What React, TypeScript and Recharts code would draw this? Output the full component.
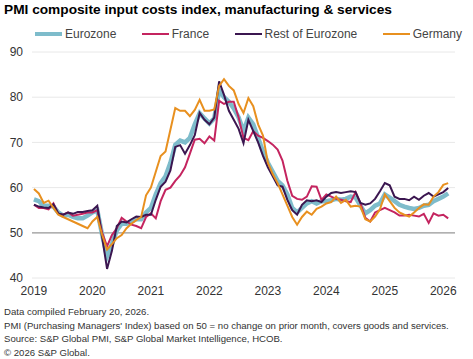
import { LineChart, Line, XAxis, YAxis, CartesianGrid, ReferenceLine } from 'recharts';

const FONT = '"Liberation Sans", Arial, sans-serif';

// x-axis tick labels (one per January)
const years = ['2019', '2020', '2021', '2022', '2023', '2024', '2025', '2026'];
const yTicks = [40, 50, 60, 70, 80, 90];

// monthly readings, Jan 2019 .. Feb 2026
const eurozone = [
  57.4, 57, 56, 56, 55.8, 54.5, 53.8, 54, 53.5, 53.2, 53.2, 53.8,
  54.5, 55, 49.5, 44.8, 47.5, 50.5, 52, 52, 52.5, 53, 53, 54.5,
  55.5, 58.5, 61, 62.5, 65.5, 69.5, 70.4, 70, 71, 74, 76.5, 75.3,
  74.2, 75.3, 81.5, 80, 79, 77.5, 75.5, 72.5, 75.5, 74, 71, 68,
  65.5, 63.5, 61.5, 60.5, 58.5, 55.5, 54.5, 55.5, 56.5, 57, 56.5, 57,
  57, 57.2, 57.5, 57.3, 57.5, 58, 57.8, 56, 54.3, 55, 56, 56.5,
  58.5, 57.8, 57, 56.2, 55.8, 55.5, 55.3, 55.5, 56, 56.2, 57, 57.5,
  58, 58.7,
];
const france = [
  56.2, 55.5, 55.5, 55.2, 56.5, 54.2, 54, 54.5, 53.8, 54, 54.2, 54.5,
  54.5, 55, 50, 47, 49.5, 51, 53.3, 52.5, 51.8, 51.5, 51, 53.5,
  54.3, 53.2, 57, 59.5, 60, 61.5, 62.7, 64.5, 67.5, 70.6, 70.8, 69.8,
  71.3, 70.4, 79.2, 78.5, 79, 79, 75.5, 71, 70.5, 72.5, 71.5, 71,
  70.3, 69.5, 68.4, 66, 61.5, 58.2, 57.5, 57.3, 58, 60.3, 60.2, 57.3,
  58.5, 58, 57.5, 57.3, 57, 56.8, 59, 56.5, 53.3, 52.5, 54.5, 55,
  55.5, 55, 54.5, 53.8, 53.8, 54, 53.8, 53.6, 54.2, 52.2, 54.3, 53.8,
  54, 53.2,
];
const restOfEurozone = [
  56.2, 55.8, 55.6, 55.5, 56.3, 54.3, 54, 54.5, 54.2, 54.6, 54.6, 54.8,
  55, 56, 49, 42, 46, 51.5, 52.5, 52.3, 53, 53.6, 53.5, 54,
  54, 57.3, 60.2, 61.3, 63.8, 69, 69.4, 67.5, 69.4, 71.6, 76.5, 75,
  74, 75.5, 83.5, 80.5, 77, 75, 73, 69.8, 75, 72.5, 70, 67,
  64.5, 62.5, 60.5, 60.2, 57.3, 55, 54, 56.2, 57.2, 57, 57.2, 56.8,
  58, 58.8, 59, 58.8, 59, 59.2, 59, 56.6, 56.2, 56.5, 57.5, 59.2,
  61, 60.5, 58, 57.5, 57.5, 57.2, 58, 57.3, 58.2, 58.8, 58, 58.5,
  59, 59.9,
];
const germany = [
  59.7, 58.7, 56.6, 57.1, 55.5, 54, 53.5, 53, 52.5, 52, 51.5, 51,
  52.5, 53.5, 49.5, 46.3, 47.5, 48.8, 49.5, 51, 52, 52.8, 53.5, 58.3,
  60, 63.5, 67, 68, 72.8, 77.6, 77, 77, 75.8, 77.2, 79.4, 77,
  77, 77.3, 82.5, 84, 82.5, 81.5, 78.5, 76.5, 79.8, 78, 74, 71.5,
  65.5, 63, 61, 58.5, 56, 53.5, 51.8, 53.5, 54.7, 54, 55.3, 55.8,
  56.5, 56.8, 58, 56.6, 57.3, 55.8, 56, 55.8, 53, 52.5, 53.6, 55.2,
  58.5, 57, 55.5, 54.5, 54, 53.6, 54.5, 55.5, 56.3, 56.2, 58, 59,
  60.6, 61,
];

const series = [
  { key: 'eurozone', name: 'Eurozone', color: '#7ebccb', width: 4.5 },
  { key: 'france', name: 'France', color: '#c4245f', width: 2 },
  { key: 'rest', name: 'Rest of Eurozone', color: '#3b1650', width: 2 },
  { key: 'germany', name: 'Germany', color: '#e8901f', width: 2 },
];

const data = eurozone.map((v, i) => ({
  i,
  eurozone: v,
  france: france[i],
  rest: restOfEurozone[i],
  germany: germany[i],
}));

export default function App() {
  return (
    <div
      style={{
        position: 'absolute',
        left: 0,
        top: 0,
        width: 473,
        height: 359,
        background: '#fff',
        fontFamily: FONT,
        color: '#333',
        overflow: 'hidden',
      }}
    >
      <div style={{ position: 'absolute', left: 4, top: 2, fontSize: 13.7, lineHeight: '16px', fontWeight: 'bold', color: '#000' }}>
        PMI composite input costs index, manufacturing &amp; services
      </div>

      {/* legend */}
      <div
        style={{
          position: 'absolute',
          left: 35,
          right: 11,
          top: 27,
          height: 14,
          display: 'flex',
          justifyContent: 'space-between',
          alignItems: 'center',
          fontSize: 12,
          color: '#444',
        }}
      >
        {series.map((s) => (
          <div key={s.key} style={{ display: 'flex', alignItems: 'center' }}>
            <span style={{ display: 'inline-block', width: 27, height: s.width > 3 ? 4 : 2, background: s.color, marginRight: 3 }} />
            <span>{s.name}</span>
          </div>
        ))}
      </div>

      <div style={{ position: 'absolute', left: 0, top: 0 }}>
        <LineChart width={473} height={300} data={data} margin={{ top: 52, right: 18, left: 4, bottom: 2 }}>
          <CartesianGrid vertical={false} stroke="#e8e8e8" />
          <XAxis
            dataKey="i"
            type="number"
            domain={[-0.4, 86.4]}
            ticks={years.map((_, k) => k * 12)}
            tickFormatter={(v: number) => years[v / 12]}
            interval={0}
            tickLine={false}
            axisLine={false}
            height={20}
            tick={{ fontSize: 12, fill: '#333' }}
          />
          <YAxis
            domain={[40, 90]}
            ticks={yTicks}
            width={28}
            tickLine={false}
            axisLine={false}
            tickMargin={3}
            tick={{ fontSize: 12, fill: '#333' }}
          />
          <ReferenceLine y={50} stroke="#9c9c9c" strokeWidth={1.2} />
          {series.map((s) => (
            <Line
              key={s.key}
              type="linear"
              dataKey={s.key}
              name={s.name}
              stroke={s.color}
              strokeWidth={s.width}
              dot={false}
              isAnimationActive={false}
            />
          ))}
        </LineChart>
      </div>

      <div style={{ position: 'absolute', left: 4, top: 305, fontSize: 9.6, lineHeight: '13.6px', color: '#333' }}>
        <div>Data compiled February 20, 2026.</div>
        <div>PMI (Purchasing Managers' Index) based on 50 = no change on prior month, covers goods and services.</div>
        <div>Source: S&amp;P Global PMI, S&amp;P Global Market Intelligence, HCOB.</div>
        <div>© 2026 S&amp;P Global.</div>
      </div>
    </div>
  );
}
